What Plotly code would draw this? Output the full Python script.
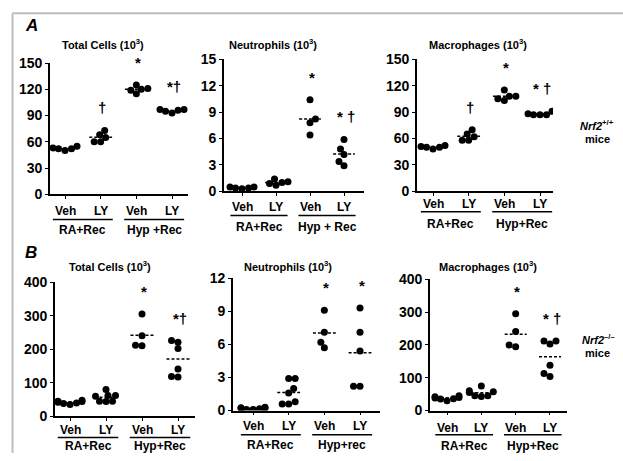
import plotly.graph_objects as go

W, H = 623, 461
FONT = "Liberation Sans, Arial, sans-serif"

# ---------------- data ----------------
categories = ["Veh", "LY", "Veh", "LY"]

# Panel A : Nrf2+/+ mice
a_total = [[52, 50, 55, 53, 52], [65, 73, 68, 60, 60], [120, 125, 115, 121, 119], [96, 97, 93, 97, 95]]
a_neut = [[0.3, 0.5, 0.4, 0.5, 0.4], [1.1, 1.4, 0.7, 1.0, 0.9], [8.2, 10.4, 7.8, 6.4], [4.8, 5.9, 4.2, 2.9, 3.4]]
a_mac = [[50, 48, 52, 51, 50], [62, 70, 65, 58, 58], [108, 115, 103, 105, 108], [88, 91, 87, 87, 87]]

# Panel B : Nrf2-/- mice
b_total = [[40, 45, 35, 48, 42, 38, 44], [80, 62, 60, 62, 45, 45, 44], [305, 240, 210, 212], [226, 221, 202, 141, 117, 119]]
b_neut = [[0.1, 0.2, 0.3, 0.15, 0.25, 0.2, 0.1], [2.0, 2.9, 2.9, 0.8, 0.6, 0.6, 1.6], [9.1, 7.1, 5.7, 6.2], [9.3, 7.1, 5.4, 2.2, 2.2]]
b_mac = [[38, 42, 35, 30, 40, 45, 36], [75, 60, 57, 55, 45, 43, 45], [295, 241, 194, 200], [212, 203, 212, 138, 104, 113]]

# significance marks
a_total_sig = ["", "†", "*", "*†"]
a_neut_sig = ["", "", "*", "* †"]
a_mac_sig = ["", "†", "*", "* †"]
b_total_sig = ["", "", "*", "*†"]
b_neut_sig = ["", "", "*", "*"]
b_mac_sig = ["", "", "*", "* †"]

# y ticks
ticks_150 = [0, 30, 60, 90, 120, 150]
ticks_15 = [0, 3, 6, 9, 12, 15]
ticks_400 = [0, 100, 200, 300, 400]
ticks_12 = [0, 3, 6, 9, 12]

titles = ["Total Cells (10<sup>3</sup>)", "Neutrophils (10<sup>3</sup>)", "Macrophages (10<sup>3</sup>)"]
groups_a = [["RA+Rec", "Hyp +Rec"], ["RA+Rec", "Hyp + Rec"], ["RA+Rec", "Hyp+Rec"]]
groups_b = [["RA+Rec", "Hyp+Rec"], ["RA+Rec", "Hyp+rec"], ["RA+Rec", "Hyp+Rec"]]

# ---------------- layout geometry (pixels) ----------------
panels = [
    dict(data=a_total, sig=a_total_sig, yt=ticks_150, title=titles[0], grp=groups_a[0],
         x0=50, x1=188, y0=193, ytop=57, t1=65, dt=35.67, lab=210, ul=219, gl=230, tx=103, ty=37),
    dict(data=a_neut, sig=a_neut_sig, yt=ticks_15, title=titles[1], grp=groups_a[1],
         x0=224, x1=364, y0=190, ytop=53, t1=242, dt=34.0, lab=206, ul=215, gl=227, tx=273, ty=37),
    dict(data=a_mac, sig=a_mac_sig, yt=ticks_150, title=titles[2], grp=groups_a[2],
         x0=417, x1=553, y0=190, ytop=53, t1=433, dt=35.67, lab=203, ul=211, gl=224, tx=478, ty=37),
    dict(data=b_total, sig=b_total_sig, yt=ticks_400, title=titles[0], grp=groups_b[0],
         x0=55, x1=195, y0=423, ytop=284, t1=70, dt=36.0, lab=437, ul=445, gl=454, tx=110, ty=267),
    dict(data=b_neut, sig=b_neut_sig, yt=ticks_12, title=titles[1], grp=groups_b[1],
         x0=233, x1=380, y0=417, ytop=280, t1=253, dt=35.67, lab=433, ul=442, gl=453, tx=288, ty=267),
    dict(data=b_mac, sig=b_mac_sig, yt=ticks_400, title=titles[2], grp=groups_b[2],
         x0=430, x1=567, y0=417, ytop=281, t1=447, dt=34.33, lab=435, ul=442, gl=454, tx=488, ty=267),
]


def px(x):
    return x / W


def py(y):
    return 1 - y / H


def swarm(vals, ppu_y, ppu_x, d=6.5, cap=12.0):
    """Deterministic bee-swarm offsets (in x units); spread capped at +-cap px."""
    placed = []
    offs = [0.0] * len(vals)
    order = sorted(range(len(vals)), key=lambda i: vals[i])
    for n_i, i in enumerate(order):
        y = vals[i] * ppu_y
        best = None
        k = 0
        first = 1 if n_i % 2 == 0 else -1
        while best is None:
            for s in ((1,) if k == 0 else (first, -first)):
                x = s * k * 0.5
                if all((x - a) ** 2 + (y - b) ** 2 >= d * d for a, b in placed):
                    best = x
                    break
            k += 1
        best = max(-cap, min(cap, best))
        placed.append((best, y))
        offs[i] = best / ppu_x
    return offs


fig = go.Figure()
annotations = []
shapes = []
bold = dict(family=FONT, color="black", weight="bold")

for n, p in enumerate(panels):
    idx = "" if n == 0 else str(n + 1)
    xa, ya = "x" + idx, "y" + idx
    ymax = p["yt"][-1]
    ppu_y = (p["y0"] - p["ytop"]) / ymax
    ppu_x = p["dt"]
    xr = [1 - (p["t1"] - p["x0"]) / p["dt"], 4 + (p["x1"] - (p["t1"] + 3 * p["dt"])) / p["dt"]]

    for g, vals in enumerate(p["data"]):
        pos = g + 1
        offs = swarm(vals, ppu_y, ppu_x)
        fig.add_trace(go.Scatter(x=[pos + o for o in offs], y=vals, mode="markers",
                                 marker=dict(color="black", size=7), xaxis=xa, yaxis=ya,
                                 showlegend=False, hoverinfo="y"))
        mean = sum(vals) / len(vals)
        fig.add_trace(go.Scatter(x=[pos - 0.32, pos + 0.32], y=[mean, mean], mode="lines",
                                 line=dict(color="black", width=1.5, dash="3px,2px"),
                                 xaxis=xa, yaxis=ya, showlegend=False, hoverinfo="skip"))
        if p["sig"][g]:
            annotations.append(dict(x=pos + 0.05, y=max(vals), xref=xa, yref=ya, yshift=12,
                                    text=p["sig"][g], showarrow=False, xanchor="center",
                                    yanchor="bottom", font=dict(size=15, **bold)))
        # category label
        annotations.append(dict(x=pos, y=py(p["lab"]), xref=xa, yref="paper",
                                text=categories[g], showarrow=False, xanchor="center",
                                yanchor="middle", font=dict(size=12, **bold)))

    for k in range(2):
        c = 1.5 + 2 * k
        shapes.append(dict(type="line", xref=xa, yref="paper", x0=c - 0.84, x1=c + 0.84,
                           y0=py(p["ul"]), y1=py(p["ul"]), line=dict(color="black", width=1.5)))
        annotations.append(dict(x=c, y=py(p["gl"]), xref=xa, yref="paper", text=p["grp"][k],
                                showarrow=False, xanchor="center", yanchor="middle",
                                font=dict(size=12, **bold)))

    annotations.append(dict(x=px(p["tx"]), y=py(p["ty"]), xref="paper", yref="paper",
                            text=p["title"], showarrow=False, xanchor="center", yanchor="middle",
                            font=dict(size=11, **bold)))

    fig.layout["xaxis" + idx] = dict(domain=[px(p["x0"]), px(p["x1"])], range=xr, anchor=ya,
                                     showline=True, linecolor="black", linewidth=1.6,
                                     tickvals=[1, 2, 3, 4], showticklabels=False, ticks="outside",
                                     ticklen=3, tickwidth=1.3, tickcolor="black",
                                     showgrid=False, zeroline=False, fixedrange=True)
    fig.layout["yaxis" + idx] = dict(domain=[py(p["y0"]), py(p["ytop"])], range=[0, ymax], anchor=xa,
                                     showline=True, linecolor="black", linewidth=1.6,
                                     tickvals=p["yt"], ticks="outside", ticklen=3, tickwidth=1.3,
                                     tickcolor="black", tickfont=dict(size=14, **bold),
                                     showgrid=False, zeroline=False, fixedrange=True)

# panel letters and genotype labels
extra = [
    dict(x=px(31), y=py(18), text="<i>A</i>", font=dict(size=17, **bold)),
    dict(x=px(31), y=py(253), text="<i>B</i>", font=dict(size=17, **bold)),
    dict(x=px(597), y=py(121), text="<i>Nrf2</i><sup>+/+</sup>", font=dict(size=11, **bold)),
    dict(x=px(597), y=py(136), text="mice", font=dict(size=11, **bold)),
    dict(x=px(598), y=py(343), text="<i>Nrf2</i><sup>–/–</sup>", font=dict(size=11, **bold)),
    dict(x=px(597), y=py(357), text="mice", font=dict(size=11, **bold)),
]
for a in extra:
    a.update(xref="paper", yref="paper", showarrow=False, xanchor="center", yanchor="middle")
annotations += extra

# frame
shapes += [
    dict(type="line", xref="paper", yref="paper", x0=px(12.5), x1=px(12.5), y0=0, y1=py(5.5),
         line=dict(color="#bdbdbd", width=2)),
    dict(type="line", xref="paper", yref="paper", x0=px(12.5), x1=1, y0=py(5.5), y1=py(5.5),
         line=dict(color="#bdbdbd", width=2)),
]

fig.update_layout(width=W, height=H, margin=dict(l=0, r=0, t=0, b=0),
                  paper_bgcolor="white", plot_bgcolor="white",
                  annotations=annotations, shapes=shapes,
                  font=dict(family=FONT, color="black"))

fig.write_html("out.html", config={"displayModeBar": False},
               post_script="document.body.style.margin='0px';document.body.style.overflow='hidden';")
